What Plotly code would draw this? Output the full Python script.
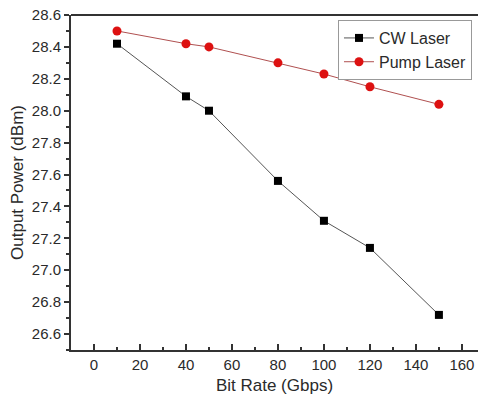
import plotly.graph_objects as go

bit_rate = [10, 40, 50, 80, 100, 120, 150]
cw_laser = [28.42, 28.09, 28.00, 27.56, 27.31, 27.14, 26.72]
pump_laser = [28.50, 28.42, 28.40, 28.30, 28.23, 28.15, 28.04]

fig = go.Figure()
fig.add_trace(go.Scatter(
    x=bit_rate, y=cw_laser, name="CW Laser", mode="lines+markers",
    line=dict(color="#555555", width=1),
    marker=dict(symbol="square", size=8, color="black"),
))
fig.add_trace(go.Scatter(
    x=bit_rate, y=pump_laser, name="Pump Laser", mode="lines+markers",
    line=dict(color="#b05050", width=1),
    marker=dict(symbol="circle", size=9, color="#dd1111"),
))

font = "Liberation Sans, Arial, sans-serif"
fig.update_layout(
    width=478, height=400,
    margin=dict(l=71, r=0, t=15, b=50),
    paper_bgcolor="white", plot_bgcolor="white",
    font=dict(family=font, color="#2a2a2a"),
    showlegend=True,
    legend=dict(
        x=0.656, y=0.985, xanchor="left", yanchor="top",
        bordercolor="#999999", borderwidth=1, bgcolor="white",
        font=dict(size=16, family=font, color="#2a2a2a"),
        tracegroupgap=0, itemwidth=30,
    ),
)
fig.update_xaxes(
    range=[-10, 167], tickmode="linear", tick0=0, dtick=20,
    ticks="inside", ticklen=6, tickwidth=1.5, tickcolor="#333333",
    minor=dict(ticks="inside", ticklen=3, dtick=10, tickcolor="#333333", tickwidth=1.5),
    showline=True, linecolor="#333333", linewidth=2, mirror=False,
    showgrid=False, zeroline=False,
    tickfont=dict(size=15),
    title=dict(text="Bit Rate (Gbps)", font=dict(size=17), standoff=7),
)
fig.update_yaxes(
    range=[26.5, 28.6], tickmode="linear", tick0=26.6, dtick=0.2,
    tickformat=".1f",
    ticks="outside", ticklen=5, tickwidth=1.5, tickcolor="#333333",
    minor=dict(ticks="outside", ticklen=3, dtick=0.1, tick0=26.5, tickcolor="#333333", tickwidth=1.5),
    showline=True, linecolor="#333333", linewidth=2, mirror=False,
    showgrid=False, zeroline=False,
    tickfont=dict(size=15),
    title=dict(text="Output Power (dBm)", font=dict(size=17), standoff=4),
)
# top frame line
fig.add_shape(type="line", xref="paper", yref="paper", x0=0, x1=1, y0=1, y1=1,
              line=dict(color="#333333", width=2))

fig.write_html("out.html")
